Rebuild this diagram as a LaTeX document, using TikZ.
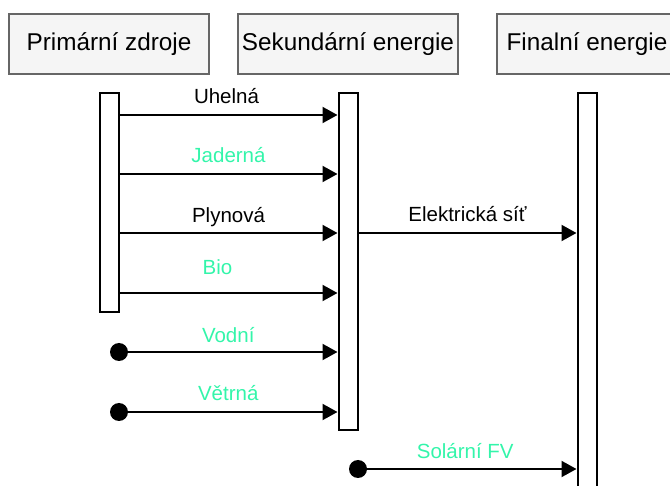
\documentclass[tikz,border=0pt]{standalone}
\usepackage{fontspec}
\setmainfont{Liberation Sans}
\usetikzlibrary{arrows.meta}
\definecolor{mint}{HTML}{33F5AA}
\definecolor{headfill}{HTML}{F5F5F5}
\definecolor{headline}{HTML}{666666}

\begin{document}
\begin{tikzpicture}[x=1pt, y=-1pt,
    head/.style = {draw=headline, fill=headfill, line width=1.5pt, inner sep=0pt,
                   minimum height=60, font=\fontsize{24.3}{28}\selectfont},
    bar/.style = {draw, fill=white, line width=2pt, minimum width=19, inner sep=0pt},
    dot/.style = {circle, fill, minimum size=18, inner sep=0pt},
    flow/.style = {line width=2pt, -{Triangle[length=15pt, width=16pt]}},
    lab/.style = {anchor=base, inner sep=0pt, font=\fontsize{20.5}{24}\selectfont}]
    \useasboundingbox (0,0) rectangle (670,486);

    \node[head, minimum width=200] (h1) at (109,44) {Primární zdroje};
    \node[head, minimum width=220] (h2) at (348,44) {Sekundární energie};
    \node[head, minimum width=180] (h3) at (587,44) {Finalní energie};

    \node[bar, minimum height=219] (b1) at (109,202.5) {};
    \node[bar, minimum height=337] (b2) at (348,261.5) {};
    \node[bar, minimum height=440] (b3) at (587,313) {};

    \node[dot] (d1) at (119,352) {};
    \node[dot] (d2) at (119,412) {};
    \node[dot] (d3) at (358,469) {};

    \draw[flow] (b1.east |- 0,115) -- node[lab, xshift=-2pt, yshift=11pt] {Uhelná} (b2.west |- 0,115);
    \draw[flow] (b1.east |- 0,174) -- node[lab, text=mint, yshift=11pt] {Jaderná} (b2.west |- 0,174);
    \draw[flow] (b1.east |- 0,233) -- node[lab, yshift=10pt] {Plynová} (b2.west |- 0,233);
    \draw[flow] (b1.east |- 0,293) -- node[lab, text=mint, xshift=-11pt, yshift=18pt] {Bio} (b2.west |- 0,293);
    \draw[flow] (d1.center) -- node[lab, text=mint, yshift=9.5pt] {Vodní} (b2.west |- d1);
    \draw[flow] (d2.center) -- node[lab, text=mint, yshift=11pt] {Větrná} (b2.west |- d2);
    \draw[flow] (b2.east |- 0,233) -- node[lab, yshift=11pt] {Elektrická síť} (b3.west |- 0,233);
    \draw[flow] (d3.center) -- node[lab, text=mint, xshift=-2pt, yshift=10pt] {Solární FV} (b3.west |- d3);
\end{tikzpicture}
\end{document}
